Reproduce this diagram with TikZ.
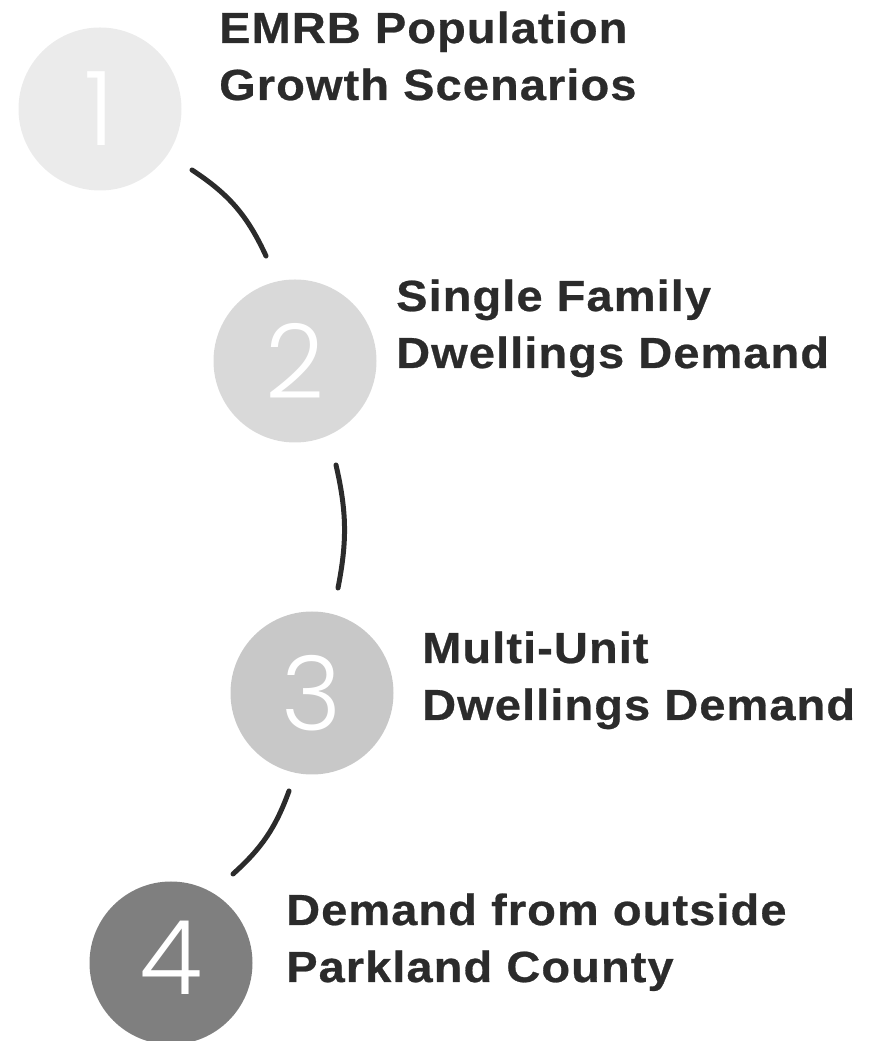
\documentclass[tikz,border=0pt]{standalone}
\usepackage{fontspec}
\setmainfont{Liberation Sans}
\newfontfamily\labelfont[LetterSpace=2.5,FakeStretch=1.08,FakeBold=0.6]{Liberation Sans Bold}
\newfontfamily\digitfont{Poppins Light}
\definecolor{cone}{HTML}{EBEBEB}
\definecolor{ctwo}{HTML}{D9D9D9}
\definecolor{cthree}{HTML}{C8C8C8}
\definecolor{cfour}{HTML}{7F7F7F}
\definecolor{ink}{HTML}{2B2B2B}
\tikzset{
  stepcircle/.style={circle, minimum size=163pt, inner sep=0pt, text=white,
    font=\digitfont\fontsize{103}{103}\selectfont},
  steplabel/.style={anchor=base west, inner sep=0pt, text=ink,
    font=\labelfont\fontsize{43.5}{57}\selectfont},
  linkarc/.style={draw=ink, line width=5pt, line cap=round}
}
\begin{document}
\begin{tikzpicture}[x=1pt,y=1pt]
\useasboundingbox (0,0) rectangle (869,1041);
\node[stepcircle, fill=cone]   (n1) at (100,932) {1};
\node[stepcircle, fill=ctwo]   (n2) at (295,680) {2};
\node[stepcircle, fill=cthree] (n3) at (312,348) {3};
\node[stepcircle, fill=cfour]  (n4) at (171,78)  {\raisebox{11pt}{4}};
\node[steplabel] (t1) at (219,998) {\begin{tabular}[t]{@{}l@{}}EMRB Population\\Growth Scenarios\end{tabular}};
\node[steplabel] (t2) at (396,730) {\begin{tabular}[t]{@{}l@{}}Single Family\\Dwellings Demand\end{tabular}};
\node[steplabel] (t3) at (422,378) {\begin{tabular}[t]{@{}l@{}}Multi-Unit\\Dwellings Demand\end{tabular}};
\node[steplabel] (t4) at (286,116) {\begin{tabular}[t]{@{}l@{}}Demand from outside\\Parkland County\end{tabular}};
\coordinate (a1s) at (192,871);
\coordinate (a1e) at (266,785);
\coordinate (a2s) at (336,576);
\coordinate (a2e) at (338,453);
\coordinate (a3s) at (289,250);
\coordinate (a3e) at (233,167);
\draw[linkarc] (a1s) to[bend left=16] (a1e);
\draw[linkarc] (a2s) to[bend left=12] (a2e);
\draw[linkarc] (a3s) to[bend left=14] (a3e);
\end{tikzpicture}
\end{document}
